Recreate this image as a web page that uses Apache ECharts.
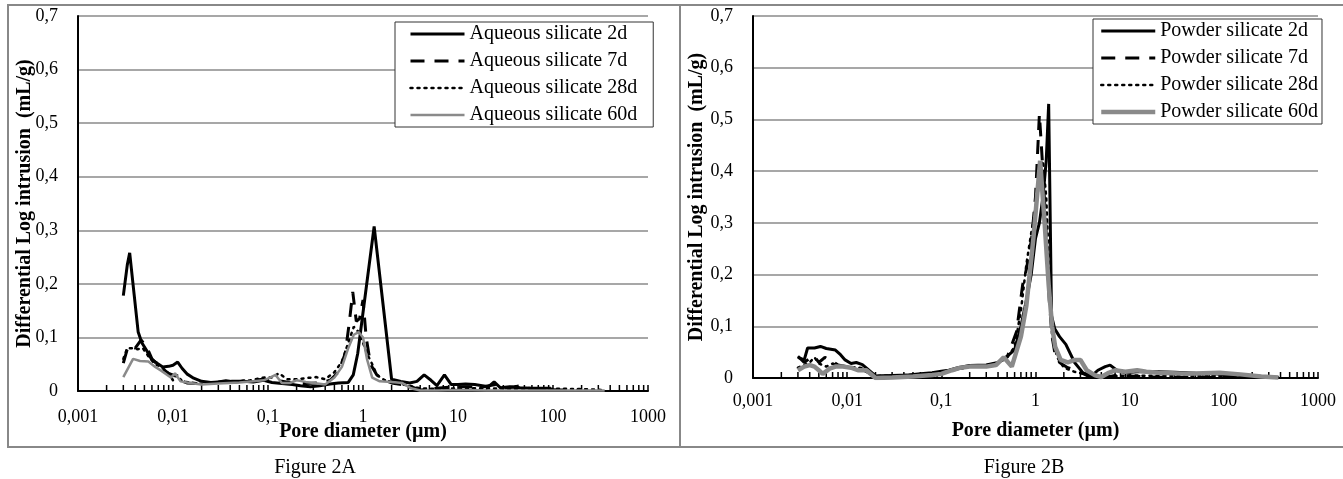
<!DOCTYPE html>
<html>
<head>
<meta charset="utf-8">
<script src="https://cdn.jsdelivr.net/npm/echarts@6/dist/echarts.min.js"></script>
<style>
html,body{margin:0;padding:0;background:#fff;}
#c{width:1343px;height:479px;}
</style>
</head>
<body>
<div id="c"></div>
<script>
// ---------- DATA ----------
const yTicks = [0, 0.1, 0.2, 0.3, 0.4, 0.5, 0.6, 0.7];
const xDecades = [0.001, 0.01, 0.1, 1, 10, 100, 1000];
const minorMultipliers = [2, 3, 4, 5, 6, 7, 8, 9];

const namesA = ['Aqueous silicate 2d', 'Aqueous silicate 7d', 'Aqueous silicate 28d', 'Aqueous silicate 60d'];
const namesB = ['Powder silicate 2d', 'Powder silicate 7d', 'Powder silicate 28d', 'Powder silicate 60d'];

// [pore diameter (µm), differential log intrusion (mL/g)]
const aqueous2d = [[0.0030,0.178],[0.0033,0.235],[0.0035,0.258],[0.0039,0.18],[0.0043,0.11],[0.0047,0.09],[0.0053,0.075],[0.0060,0.058],[0.0068,0.052],[0.0078,0.045],[0.0090,0.046],[0.0100,0.048],[0.0112,0.054],[0.0125,0.042],[0.0140,0.032],[0.0165,0.024],[0.0200,0.018],[0.025,0.016],[0.03,0.017],[0.036,0.019],[0.045,0.017],[0.055,0.018],[0.07,0.017],[0.09,0.02],[0.11,0.016],[0.14,0.014],[0.18,0.012],[0.22,0.01],[0.28,0.008],[0.35,0.01],[0.45,0.013],[0.55,0.015],[0.7,0.016],[0.79,0.03],[0.88,0.07],[1.31,0.307],[2.0,0.022],[2.5,0.018],[3.1,0.015],[3.7,0.018],[4.4,0.03],[5.2,0.02],[6.0,0.01],[7.2,0.03],[8.5,0.012],[10,0.012],[12,0.013],[15,0.012],[18,0.01],[21,0.008],[24,0.017],[28,0.006],[35,0.008],[45,0.006],[60,0.005],[80,0.005],[95,0.005]];
const aqueous7d = [[0.0030,0.052],[0.0033,0.078],[0.0036,0.085],[0.004,0.08],[0.0046,0.095],[0.0052,0.085],[0.006,0.06],[0.007,0.048],[0.008,0.04],[0.009,0.033],[0.0105,0.028],[0.012,0.02],[0.014,0.015],[0.018,0.014],[0.025,0.015],[0.035,0.018],[0.05,0.018],[0.07,0.02],[0.09,0.022],[0.11,0.02],[0.14,0.018],[0.18,0.015],[0.25,0.014],[0.35,0.015],[0.45,0.02],[0.55,0.035],[0.65,0.07],[0.72,0.13],[0.78,0.185],[0.85,0.13],[0.92,0.135],[1.0,0.17],[1.08,0.1],[1.2,0.05],[1.4,0.03],[1.7,0.02],[2,0.015],[2.6,0.012],[3.2,0.008],[4,0.002],[5,0.003],[6,0.005],[8,0.007],[10,0.008],[13,0.008],[17,0.006],[21,0.01],[25,0.012],[30,0.005],[40,0.008],[45,0.01],[55,0.005],[80,0.003],[120,0.002],[200,0.001]];
const aqueous28d = [[0.003,0.06],[0.0033,0.08],[0.0037,0.08],[0.0042,0.078],[0.0048,0.08],[0.0055,0.065],[0.0065,0.05],[0.0075,0.045],[0.0088,0.035],[0.01,0.02],[0.011,0.03],[0.0125,0.018],[0.015,0.016],[0.02,0.013],[0.03,0.016],[0.045,0.018],[0.065,0.02],[0.09,0.025],[0.11,0.025],[0.13,0.033],[0.16,0.022],[0.2,0.022],[0.25,0.024],[0.32,0.026],[0.4,0.022],[0.5,0.035],[0.6,0.055],[0.7,0.09],[0.8,0.12],[0.9,0.11],[1.0,0.09],[1.1,0.07],[1.25,0.05],[1.4,0.03],[1.7,0.02],[2.2,0.015],[3,0.01],[4,0.005],[6,0.004],[10,0.005],[20,0.005],[40,0.004],[80,0.004],[150,0.004],[250,0.003],[320,0.002]];
const aqueous60d = [[0.003,0.026],[0.0038,0.06],[0.0045,0.056],[0.0055,0.055],[0.0065,0.045],[0.0075,0.038],[0.0087,0.03],[0.0095,0.025],[0.0105,0.033],[0.012,0.018],[0.015,0.015],[0.02,0.012],[0.03,0.014],[0.05,0.016],[0.07,0.018],[0.09,0.02],[0.105,0.025],[0.12,0.03],[0.14,0.015],[0.17,0.015],[0.2,0.02],[0.25,0.017],[0.3,0.015],[0.4,0.012],[0.5,0.025],[0.6,0.045],[0.7,0.08],[0.8,0.105],[0.9,0.11],[1.0,0.1],[1.1,0.06],[1.25,0.025],[1.5,0.018],[2,0.017],[2.6,0.015],[3.2,0.005],[4,0.001],[6,0.001],[10,0.002],[20,0.001],[50,0.001],[100,0.001],[200,0.001],[350,0.001]];

const powder2d = [[0.003,0.04],[0.0035,0.035],[0.0038,0.058],[0.0045,0.058],[0.0052,0.061],[0.006,0.057],[0.0075,0.054],[0.0085,0.045],[0.0095,0.035],[0.011,0.028],[0.0125,0.03],[0.0145,0.026],[0.017,0.015],[0.02,0.004],[0.03,0.005],[0.045,0.006],[0.06,0.008],[0.08,0.01],[0.1,0.013],[0.12,0.015],[0.15,0.02],[0.2,0.024],[0.3,0.025],[0.4,0.03],[0.5,0.042],[0.6,0.055],[0.7,0.1],[0.8,0.15],[0.9,0.2],[1.0,0.27],[1.1,0.3],[1.2,0.35],[1.3,0.42],[1.38,0.53],[1.48,0.12],[1.6,0.095],[1.8,0.08],[2.1,0.065],[2.6,0.03],[3.2,0.01],[4,0.005],[4.6,0.015],[5.5,0.022],[6.2,0.025],[7.3,0.015],[9,0.01],[12,0.012],[20,0.012],[30,0.011],[50,0.009],[80,0.008],[100,0.007],[150,0.005],[250,0.003],[380,0.001]];
const powder7d = [[0.003,0.042],[0.0035,0.03],[0.004,0.038],[0.0045,0.042],[0.005,0.03],[0.0058,0.04],[0.007,0.032],[0.008,0.025],[0.01,0.022],[0.012,0.02],[0.015,0.015],[0.02,0.003],[0.03,0.004],[0.05,0.006],[0.08,0.009],[0.1,0.011],[0.15,0.018],[0.2,0.022],[0.3,0.024],[0.4,0.03],[0.5,0.04],[0.63,0.09],[0.73,0.18],[0.8,0.21],[0.91,0.27],[1.0,0.35],[1.1,0.51],[1.2,0.4],[1.3,0.28],[1.4,0.15],[1.5,0.08],[1.6,0.05],[1.8,0.03],[2.2,0.02],[2.7,0.015],[3.5,0.005],[4.5,0.001],[5.5,0.001],[7,0.005],[10,0.004],[15,0.002],[30,0.001],[100,0.001],[380,0.001]];
const powder28d = [[0.003,0.02],[0.0035,0.025],[0.004,0.03],[0.0045,0.04],[0.005,0.028],[0.006,0.022],[0.007,0.028],[0.008,0.025],[0.01,0.022],[0.013,0.02],[0.016,0.018],[0.02,0.004],[0.04,0.005],[0.07,0.008],[0.1,0.01],[0.15,0.017],[0.2,0.022],[0.3,0.025],[0.4,0.028],[0.5,0.04],[0.6,0.06],[0.7,0.13],[0.8,0.22],[0.9,0.28],[1.0,0.33],[1.1,0.38],[1.2,0.42],[1.3,0.35],[1.4,0.2],[1.5,0.08],[1.7,0.04],[2.0,0.02],[2.6,0.012],[3.2,0.008],[4,0.002],[6,0.003],[10,0.005],[20,0.004],[50,0.004],[100,0.004],[200,0.002],[380,0.001]];
const powder60d = [[0.003,0.015],[0.0035,0.022],[0.004,0.025],[0.0045,0.022],[0.005,0.015],[0.0055,0.008],[0.0065,0.018],[0.0075,0.022],[0.009,0.022],[0.011,0.02],[0.013,0.015],[0.016,0.015],[0.02,0.0],[0.03,0.001],[0.05,0.003],[0.08,0.006],[0.1,0.008],[0.13,0.015],[0.16,0.02],[0.2,0.022],[0.3,0.022],[0.38,0.025],[0.46,0.04],[0.56,0.022],[0.7,0.08],[0.8,0.14],[0.95,0.27],[1.12,0.42],[1.25,0.3],[1.38,0.18],[1.5,0.1],[1.62,0.06],[1.85,0.035],[2.2,0.03],[2.6,0.035],[3.0,0.035],[3.5,0.015],[4.3,0.005],[5.0,0.002],[6,0.01],[7,0.015],[9,0.012],[12,0.015],[15,0.012],[20,0.01],[40,0.008],[90,0.01],[150,0.007],[250,0.003],[380,0.001]];

// ---------- CHART ----------
const FONT = "'Liberation Serif','Times New Roman',serif";
const minorTickValues = [];
xDecades.slice(0, -1).forEach(d => minorMultipliers.forEach(m => minorTickValues.push([d * m, 0])));

const fmtX = v => Number(Number(v).toPrecision(4)).toString().replace('.', ',');
const fmtY = v => Number(Number(v).toFixed(2)).toString().replace('.', ',');

function xAxisCfg(gridIndex, labelMargin, nameGap) {
  return {
    type: 'log', gridIndex, logBase: 10,
    min: xDecades[0], max: xDecades[xDecades.length - 1], splitNumber: 6,
    axisLine: { show: true, lineStyle: { color: '#000', width: 2 } },
    axisTick: { show: true, inside: true, length: 6, lineStyle: { color: '#000', width: 1.5 } },
    splitLine: { show: false },
    axisLabel: { formatter: fmtX, color: '#000', fontFamily: FONT, fontSize: 18, margin: labelMargin },
    name: 'Pore diameter (µm)', nameLocation: 'middle', nameGap, nameMoveOverlap: false,
    nameTextStyle: { fontFamily: FONT, fontSize: 20, fontWeight: 'bold', color: '#000' }
  };
}
function yAxisCfg(gridIndex, nameGap) {
  return {
    type: 'value', gridIndex, min: yTicks[0], max: yTicks[yTicks.length - 1], interval: 0.1,
    axisLine: { show: true, lineStyle: { color: '#000', width: 2 } },
    axisTick: { show: false },
    splitLine: { show: true, lineStyle: { color: '#8a8a8a', width: 1.5 } },
    axisLabel: { formatter: fmtY, color: '#000', fontFamily: FONT, fontSize: 18, margin: 20 },
    name: 'Differential Log intrusion  (mL/g)', nameLocation: 'middle', nameGap, nameMoveOverlap: false,
    nameTextStyle: { fontFamily: FONT, fontSize: 20, fontWeight: 'bold', color: '#000' }
  };
}
const styles = [
  { color: '#000', width: 3, type: 'solid' },
  { color: '#000', width: 3, type: [14, 10] },
  { color: '#000', width: 2.5, type: [2, 5], cap: 'round' },
  { color: '#8a8a8a', width: 2.5, type: 'solid' }
];
const stylesB = styles.slice(0, 3).concat([{ color: '#8a8a8a', width: 4.5, type: 'solid' }]);

function lineSeries(name, data, idx, st) {
  return {
    type: 'line', name, data, xAxisIndex: idx, yAxisIndex: idx,
    symbol: 'none', smooth: false, silent: true, animation: false,
    lineStyle: { color: st.color, width: st.width, type: st.type, cap: st.cap || 'butt' },
    itemStyle: { color: st.color }
  };
}
function tickSeries(idx) {
  return {
    type: 'custom', xAxisIndex: idx, yAxisIndex: idx, data: minorTickValues, silent: true, animation: false,
    renderItem: (params, api) => {
      const p = api.coord([api.value(0), 0]);
      return { type: 'line', shape: { x1: p[0], y1: p[1], x2: p[0], y2: p[1] - 6 }, style: { stroke: '#000', lineWidth: 1.5 } };
    }
  };
}
function legendCfg(data, left, top, padding) {
  return {
    data, orient: 'vertical', left, top, padding, itemGap: 7, itemWidth: 54, itemHeight: 14,
    borderColor: '#333', borderWidth: 1, backgroundColor: '#fff', borderRadius: 0,
    itemStyle: { opacity: 0 },
    lineStyle: { width: 'inherit' },
    textStyle: { fontFamily: FONT, fontSize: 20, color: '#000', lineHeight: 20 },
    selectedMode: false
  };
}

const seriesList = [
  lineSeries(namesA[0], aqueous2d, 0, styles[0]),
  lineSeries(namesA[1], aqueous7d, 0, styles[1]),
  lineSeries(namesA[2], aqueous28d, 0, styles[2]),
  lineSeries(namesA[3], aqueous60d, 0, styles[3]),
  lineSeries(namesB[0], powder2d, 1, stylesB[0]),
  lineSeries(namesB[1], powder7d, 1, stylesB[1]),
  lineSeries(namesB[2], powder28d, 1, stylesB[2]),
  lineSeries(namesB[3], powder60d, 1, stylesB[3]),
  tickSeries(0), tickSeries(1)
];

const chart = echarts.init(document.getElementById('c'), null, { renderer: 'canvas' });
chart.setOption({
  backgroundColor: '#fff',
  animation: false,
  grid: [
    { left: 78, top: 16, width: 570, height: 375 },
    { left: 753, top: 16, width: 565, height: 362 }
  ],
  xAxis: [xAxisCfg(0, 17, 31), xAxisCfg(1, 14, 43)],
  yAxis: [yAxisCfg(0, 43), yAxisCfg(1, 46)],
  legend: [
    legendCfg(namesA, 395, 22, [2, 16, 2, 14]),
    legendCfg(namesB, 1093, 19, [2, 4, 2, 6])
  ],
  series: seriesList,
  graphic: [
    { type: 'rect', shape: { x: 8, y: 5, width: 672, height: 442 }, style: { fill: null, stroke: '#888', lineWidth: 2 }, silent: true, z: -1 },
    { type: 'rect', shape: { x: 680, y: 5, width: 670, height: 442 }, style: { fill: null, stroke: '#888', lineWidth: 2 }, silent: true, z: -1 },
    { type: 'text', x: 315, y: 468, style: { text: 'Figure 2A', align: 'center', verticalAlign: 'middle', font: "20px 'Liberation Serif', serif", fill: '#000' }, silent: true },
    { type: 'text', x: 1024, y: 468, style: { text: 'Figure 2B', align: 'center', verticalAlign: 'middle', font: "20px 'Liberation Serif', serif", fill: '#000' }, silent: true }
  ]
});
</script>
</body>
</html>
